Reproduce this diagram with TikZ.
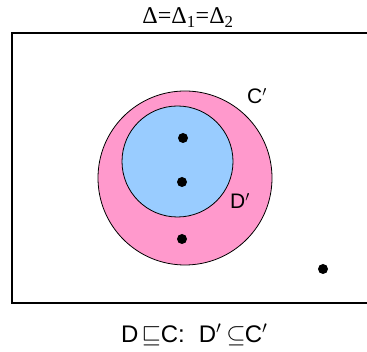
\documentclass[tikz,border=0pt]{standalone}
\usepackage{fontspec}
\setmainfont{Liberation Sans}
\newfontfamily\titlefont{Liberation Serif}
\usepackage{tikz}

\definecolor{conceptC}{RGB}{255,153,204}
\definecolor{conceptD}{RGB}{153,204,255}

\begin{document}
\begin{tikzpicture}[x=1pt, y=-1pt,
  universo/.style={draw, line width=1.3pt},
  ext/.style={draw, circle, line width=0.8pt, inner sep=0pt},
  elem/.style={circle, fill=black, minimum size=10pt, inner sep=0pt},
  etiqueta/.style={inner sep=0pt, font=\fontsize{21}{24}\selectfont}]
\useasboundingbox (0,0) rectangle (367,352);
\clip (0,0) rectangle (367,352);
\draw[universo] (12,33) rectangle (375,303);
\node[ext, fill=conceptC, minimum size=174pt] (Cext) at (185,178) {};
\node[ext, fill=conceptD, minimum size=111pt] (Dext) at (177.5,161.5) {};
\node[elem] (e1) at (183,138) {};
\node[elem] (e2) at (182,182) {};
\node[elem] (e3) at (182,239) {};
\node[elem] (e4) at (323,269) {};
\node[etiqueta] (Clab) at (257,96) {C$'$};
\node[etiqueta] (Dlab) at (240,201) {D$'$};
\node[inner sep=0pt, anchor=base, font=\titlefont\fontsize{24}{26}\selectfont] (titulo) at (188,24) {Δ=Δ\textsubscript{1}=Δ\textsubscript{2}};
\node[inner sep=0pt, anchor=base west, font=\fontsize{24}{28}\selectfont] (regla) at (121,343)
  {D\hspace{3pt}$\sqsubseteq$C:\hspace{14pt}D$'$\hspace{5pt}$\subseteq$\hspace{-1pt}C$'$};
\end{tikzpicture}
\end{document}
